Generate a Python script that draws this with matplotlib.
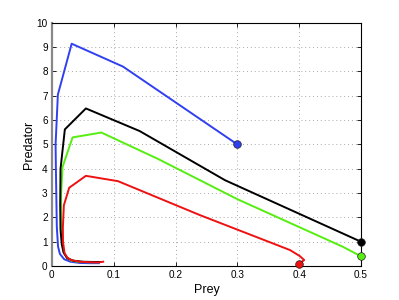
import matplotlib
matplotlib.use('Agg')
import matplotlib.pyplot as plt

plt.rcParams['font.family'] = ['Liberation Sans', 'DejaVu Sans']

# trajectories (prey, predator)
blue_x = [0.30, 0.115, 0.032, 0.0097, 0.0060, 0.0065, 0.0080, 0.0100, 0.0130, 0.0200, 0.0300, 0.0450, 0.0600, 0.0760]
blue_y = [5.00, 8.20, 9.14, 7.05, 5.00, 4.00, 1.60, 0.80, 0.50, 0.28, 0.18, 0.13, 0.12, 0.12]

black_x = [0.50, 0.28, 0.142, 0.055, 0.021, 0.014, 0.0135, 0.014, 0.016, 0.019, 0.025, 0.035, 0.050, 0.065, 0.078]
black_y = [1.00, 3.53, 5.55, 6.48, 5.62, 4.00, 2.50, 1.50, 0.90, 0.55, 0.32, 0.22, 0.18, 0.17, 0.17]

green_x = [0.50, 0.47, 0.30, 0.172, 0.080, 0.0335, 0.0173, 0.0150, 0.0150, 0.0165, 0.019, 0.024, 0.032, 0.045, 0.060, 0.075]
green_y = [0.40, 0.80, 2.75, 4.40, 5.49, 5.29, 4.08, 3.00, 1.80, 1.00, 0.60, 0.35, 0.22, 0.17, 0.16, 0.16]

red_x = [0.40, 0.408, 0.401, 0.385, 0.239, 0.107, 0.055, 0.028, 0.0194, 0.0178, 0.0180, 0.0205, 0.025, 0.031, 0.045, 0.060, 0.075, 0.083]
red_y = [0.10, 0.25, 0.41, 0.66, 2.10, 3.49, 3.71, 3.22, 2.50, 1.60, 1.00, 0.53, 0.35, 0.25, 0.18, 0.16, 0.15, 0.18]

xticks = [0, 0.1, 0.2, 0.3, 0.4, 0.5]
xticklabels = ['0', '0.1', '0.2', '0.3', '0.4', '0.5']
yticks = list(range(0, 11))

fig = plt.figure(figsize=(3.99, 3.0), dpi=100)
ax = fig.add_axes([0.130, 0.113, 0.775, 0.811])

curves = [
    (blue_x, blue_y, '#3040f0'),
    (green_x, green_y, '#55ee10'),
    (black_x, black_y, 'black'),
    (red_x, red_y, '#ee1111'),
]
for xs, ys, c in curves:
    ax.plot(xs, ys, color=c, lw=1.4, zorder=3)
    # start point
    ax.plot(xs[0], ys[0], 'o', ms=5.5, mfc=c, mec='#222222', mew=0.5, zorder=4, clip_on=False)

ax.set_xlim(0, 0.5)
ax.set_ylim(0, 10)
ax.set_xticks(xticks)
ax.set_xticklabels(xticklabels)
ax.set_yticks(yticks)
ax.tick_params(direction='in', length=3, width=0.6, labelsize=7.2, top=True, right=True, pad=3)
ax.grid(True, linestyle=(0, (1, 3)), color='#a8a8a8', lw=0.7)
for s in ax.spines.values():
    s.set_linewidth(0.8)
ax.spines['left'].set_color('#888888')
ax.spines['left'].set_linewidth(1.6)

ax.set_xlabel('Prey', fontsize=9, labelpad=3)
ax.set_ylabel('Predator', fontsize=9, labelpad=1)

fig.savefig('out.png', dpi=100)
